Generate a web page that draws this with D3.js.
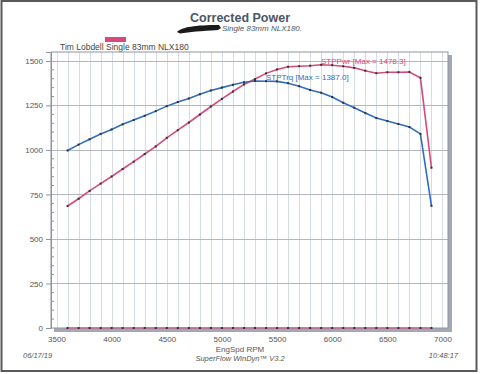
<!DOCTYPE html>
<html>
<head>
<meta charset="utf-8">
<script src="https://cdn.jsdelivr.net/npm/d3@7"></script>
<style>
  body { margin: 0; background: #fff; }
  svg { display: block; font-family: "Liberation Sans", Arial, sans-serif; }
</style>
</head>
<body>
<div id="chart"></div>
<script>
// engine speed (rpm) of each dyno sample
const rpm = [3600, 3700, 3800, 3900, 4000, 4100, 4200, 4300, 4400, 4500, 4600, 4700,
  4800, 4900, 5000, 5100, 5200, 5300, 5400, 5500, 5600, 5700, 5800, 5900, 6000,
  6100, 6200, 6300, 6400, 6500, 6600, 6700, 6800, 6900];

const stpPwr = [685, 726, 770, 811, 851, 893, 934, 977, 1020, 1068, 1111, 1154,
  1199, 1244, 1287, 1328, 1368, 1398, 1430, 1452, 1467, 1470, 1473, 1478.3, 1476,
  1470, 1461, 1445, 1431, 1436, 1436, 1438, 1405, 900];

const stpTrq = [997, 1030, 1060, 1090, 1115, 1144, 1168, 1192, 1218, 1246, 1269, 1289,
  1313, 1334, 1350, 1366, 1380, 1387.0, 1386, 1385, 1375, 1358, 1337, 1321, 1297,
  1265, 1237, 1207, 1179, 1162, 1146, 1129, 1090, 686];

const xTicks = [3500, 4000, 4500, 5000, 5500, 6000, 6500, 7000];
const yTicks = [0, 250, 500, 750, 1000, 1250, 1500];

const W = 480, H = 374;
const pwrColor = "#d8497a", trqColor = "#2f6dc2";

const svg = d3.select("#chart").append("svg")
  .attr("width", W).attr("height", H);

// page frame
svg.append("rect").attr("x", 1.5).attr("y", 1).attr("width", 475).attr("height", 370)
  .attr("fill", "#fff").attr("stroke", "#5a5a5a").attr("stroke-width", 2);

const x = d3.scaleLinear().domain([3450, 7050]).range([51, 448]);
const y = d3.scaleLinear().domain([0, 1550]).range([328, 52]);

// titles
svg.append("text").attr("x", 240).attr("y", 22).attr("text-anchor", "middle")
  .attr("font-size", 12.5).attr("font-weight", "bold").attr("fill", "#4b5664")
  .text("Corrected Power");
svg.append("path")
  .attr("d", "M177,32 C182,27 195,25 219,25 L221,28 L218,30 C200,31 190,32 180,33.5 Z")
  .attr("fill", "#1a1a1a");
svg.append("text").attr("x", 222).attr("y", 31)
  .attr("font-size", 8).attr("font-style", "italic").attr("fill", "#4b5664")
  .text("Single 83mm NLX180.");

// legend
svg.append("rect").attr("x", 105).attr("y", 37).attr("width", 21).attr("height", 5)
  .attr("fill", pwrColor);
svg.append("text").attr("x", 60).attr("y", 50)
  .attr("font-size", 8.5).attr("fill", "#444")
  .text("Tim Lobdell Single 83mm NLX180");

// shadow of the plot box
svg.append("rect").attr("x", 54).attr("y", 55).attr("width", 398).attr("height", 277)
  .attr("fill", "#a3a8b4");
svg.append("rect").attr("x", 51).attr("y", 52).attr("width", 397).attr("height", 276)
  .attr("fill", "#fff");

// grid
const vGrid = d3.range(3500, 7001, 100);
svg.append("g").selectAll("line").data(vGrid).join("line")
  .attr("x1", d => Math.round(x(d)) + 0.5).attr("x2", d => Math.round(x(d)) + 0.5)
  .attr("y1", y.range()[1]).attr("y2", y.range()[0])
  .attr("stroke", "#d6dce5").attr("stroke-width", 1);
svg.append("g").selectAll("line").data(yTicks.slice(1)).join("line")
  .attr("x1", 51).attr("x2", 448)
  .attr("y1", d => Math.round(y(d)) + 0.5).attr("y2", d => Math.round(y(d)) + 0.5)
  .attr("stroke", "#b3b7be").attr("stroke-width", 1);

// plot border
svg.append("rect").attr("x", 51).attr("y", 52).attr("width", 397).attr("height", 276)
  .attr("fill", "none").attr("stroke", "#8d939c").attr("stroke-width", 1);

// y axis
const yAxis = svg.append("g").attr("transform", "translate(51,0)")
  .call(d3.axisLeft(y).tickValues(yTicks).tickFormat(d3.format("d"))
    .tickSize(5).tickPadding(3));
yAxis.select(".domain").attr("stroke", "#8d939c");
yAxis.selectAll(".tick line").attr("stroke", "#8d939c");
yAxis.selectAll("text").attr("font-size", 8).attr("fill", "#555")
  .attr("font-family", "Liberation Sans, Arial, sans-serif");
svg.append("g").selectAll("line")
  .data(d3.range(50, 1550, 50).filter(v => v % 250 !== 0)).join("line")
  .attr("x1", 51).attr("x2", 54)
  .attr("y1", d => y(d)).attr("y2", d => y(d))
  .attr("stroke", "#8d939c");

// x axis labels
const xAxis = svg.append("g").attr("transform", "translate(0,328)")
  .call(d3.axisBottom(x).tickValues(xTicks).tickFormat(d3.format("d"))
    .tickSize(0).tickPadding(8));
xAxis.select(".domain").remove();
xAxis.selectAll("text").attr("font-size", 8).attr("fill", "#555")
  .attr("font-family", "Liberation Sans, Arial, sans-serif");

svg.append("text").attr("x", 240).attr("y", 352).attr("text-anchor", "middle")
  .attr("font-size", 8).attr("fill", "#555").text("EngSpd RPM");
svg.append("text").attr("x", 240).attr("y", 361).attr("text-anchor", "middle")
  .attr("font-size", 7.5).attr("font-style", "italic").attr("fill", "#555")
  .text("SuperFlow WinDyn\u2122 V3.2");
svg.append("text").attr("x", 23).attr("y", 358)
  .attr("font-size", 7.5).attr("font-style", "italic").attr("fill", "#555")
  .text("06/17/19");
svg.append("text").attr("x", 458).attr("y", 358).attr("text-anchor", "end")
  .attr("font-size", 7.5).attr("font-style", "italic").attr("fill", "#555")
  .text("10:48:17");

// series
const line = d3.line().x(d => x(d[0])).y(d => y(d[1]));
const series = [
  { values: rpm.map(r => 0), color: "#c26a86" },
  { values: stpPwr, color: pwrColor },
  { values: stpTrq, color: trqColor }
];
series.forEach(s => {
  const pts = rpm.map((r, i) => [r, s.values[i]]);
  svg.append("path").datum(pts).attr("d", line)
    .attr("fill", "none").attr("stroke", s.color).attr("stroke-width", 1.6);
  svg.append("g").selectAll("rect").data(pts).join("rect")
    .attr("x", d => x(d[0]) - 1).attr("y", d => y(d[1]) - 1)
    .attr("width", 2).attr("height", 2).attr("fill", "#333");
});

// series labels
svg.append("text").attr("x", 321).attr("y", 64)
  .attr("font-size", 8).attr("fill", pwrColor)
  .text("STPPwr [Max = " + d3.max(stpPwr).toFixed(1) + "]");
svg.append("text").attr("x", 266).attr("y", 80)
  .attr("font-size", 8).attr("fill", trqColor)
  .text("STPTrq [Max = " + d3.max(stpTrq).toFixed(1) + "]");
</script>
</body>
</html>
